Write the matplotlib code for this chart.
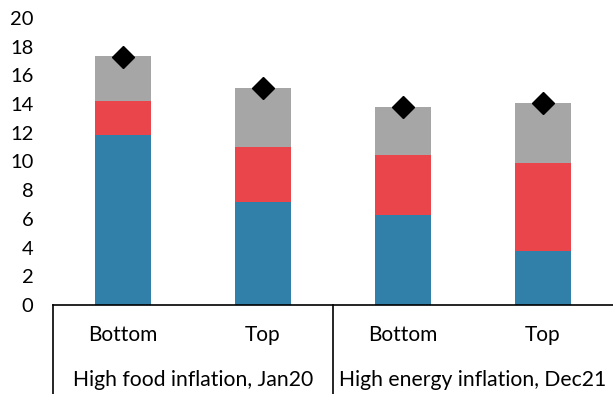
import matplotlib
matplotlib.use("Agg")
import matplotlib.pyplot as plt
import numpy as np

# data
categories = ["Bottom", "Top", "Bottom", "Top"]
groups = ["High food inflation, Jan20", "High energy inflation, Dec21"]
blue_vals = [11.85, 7.2, 6.27, 3.78]
red_vals = [2.35, 3.8, 4.18, 6.09]
gray_vals = [3.15, 4.1, 3.35, 4.18]
totals = [17.3, 15.1, 13.8, 14.05]

BLUE = "#3180AA"
RED = "#E9454A"
GRAY = "#A6A6A6"

plt.rcParams['font.family'] = ['Lato', 'DejaVu Sans']

fig = plt.figure(figsize=(6.13, 3.94), dpi=100)
W, H = 613, 394
ax = fig.add_axes([53 / W, (H - 305) / H, 1 - 53 / W, (305 - 18) / H])

x = np.arange(len(categories))
b = np.array(blue_vals)
r = np.array(red_vals)
g = np.array(gray_vals)
ax.bar(x, b, width=0.4, color=BLUE)
ax.bar(x, r, width=0.4, bottom=b, color=RED)
ax.bar(x, g, width=0.4, bottom=b + r, color=GRAY)
ax.plot(x, totals, linestyle="none", marker="D", color="black", markersize=11)

ax.set_xlim(-0.5, 3.5)
ax.set_ylim(0, 20)
ax.set_yticks(range(0, 21, 2))
ax.tick_params(axis="y", length=0, pad=14, labelsize=14.5)
ax.set_xticks([])
for s in ["top", "right", "left"]:
    ax.spines[s].set_visible(False)
ax.spines["bottom"].set_linewidth(1.2)

# two-level category axis
tr = ax.get_xaxis_transform()
for xi, lab in zip(x, categories):
    ax.text(xi, -0.105, lab, transform=tr, ha="center", va="center", fontsize=15, clip_on=False)
for gi, lab in enumerate(groups):
    ax.text(gi * 2 + 0.5, -0.262, lab, transform=tr, ha="center", va="center", fontsize=15.2, clip_on=False)
for xv in [-0.5, 1.5]:
    ax.plot([xv, xv], [0, -0.32], transform=tr, color="black", lw=1.2, clip_on=False)

fig.savefig("out.png", dpi=100)
